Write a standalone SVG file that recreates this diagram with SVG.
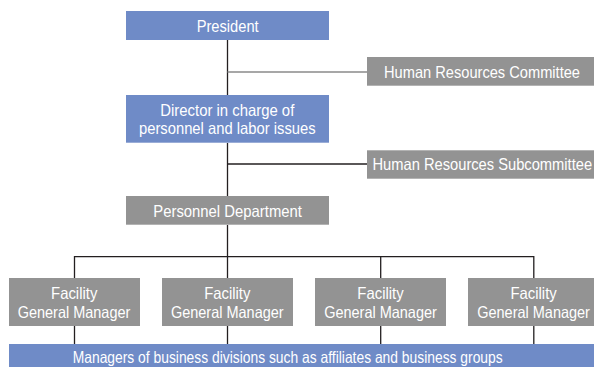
<svg xmlns="http://www.w3.org/2000/svg" width="594" height="367" viewBox="0 0 594 367">
<style>
.blue{fill:#6f8bc7}
.gray{fill:#939393}
.t{font-family:"Liberation Sans",Arial,sans-serif;font-size:16.5px;fill:#ffffff;text-anchor:middle}
.ln{stroke:#231f20;stroke-width:1.3;fill:none}
.lg{stroke:#8a8a8a;stroke-width:1.6;fill:none}
</style>
<rect width="594" height="367" fill="#ffffff"/>
<g id="connectors">
<line class="ln" x1="227.5" y1="40" x2="227.5" y2="95"/>
<line class="lg" x1="227.5" y1="72" x2="367" y2="72"/>
<line class="ln" x1="227.5" y1="143" x2="227.5" y2="196"/>
<line class="ln" x1="227.5" y1="164" x2="367" y2="164"/>
<line class="ln" x1="227.5" y1="225" x2="227.5" y2="278"/>
<polyline class="ln" points="74.5,278 74.5,256.7 533.8,256.7 533.8,278"/>
<line class="ln" x1="380.7" y1="256.7" x2="380.7" y2="278"/>
<line class="ln" x1="74.5" y1="326" x2="74.5" y2="344"/>
<line class="ln" x1="227.5" y1="326" x2="227.5" y2="344"/>
<line class="ln" x1="380.7" y1="326" x2="380.7" y2="344"/>
<line class="ln" x1="533.8" y1="326" x2="533.8" y2="344"/>
</g>
<g id="president">
<rect class="blue" x="126" y="11" width="203" height="29"/>
<text class="t" x="227.7" y="32" textLength="62" lengthAdjust="spacingAndGlyphs">President</text>
</g>
<g id="hr-committee">
<rect class="gray" x="367" y="57" width="227" height="28.7"/>
<text class="t" x="482" y="78.2" textLength="196" lengthAdjust="spacingAndGlyphs">Human Resources Committee</text>
</g>
<g id="director">
<rect class="blue" x="126" y="95" width="203" height="47.7"/>
<text class="t" x="227.3" y="116" textLength="134" lengthAdjust="spacingAndGlyphs">Director in charge of</text>
<text class="t" x="227.3" y="134.3" textLength="176.7" lengthAdjust="spacingAndGlyphs">personnel and labor issues</text>
</g>
<g id="hr-subcommittee">
<rect class="gray" x="367" y="150.3" width="227" height="28.4"/>
<text class="t" x="482.3" y="170.3" textLength="219.6" lengthAdjust="spacingAndGlyphs">Human Resources Subcommittee</text>
</g>
<g id="personnel-dept">
<rect class="gray" x="126" y="196" width="203" height="28.7"/>
<text class="t" x="227.6" y="217.3" textLength="148.7" lengthAdjust="spacingAndGlyphs">Personnel Department</text>
</g>
<g id="fgm1">
<rect class="gray" x="9" y="278" width="131" height="48"/>
<text class="t" x="74.2" y="299.3" textLength="46.3" lengthAdjust="spacingAndGlyphs">Facility</text>
<text class="t" x="74" y="317.7" textLength="112.7" lengthAdjust="spacingAndGlyphs">General Manager</text>
</g>
<g id="fgm2">
<rect class="gray" x="162" y="278" width="131" height="48"/>
<text class="t" x="227.3" y="299.3" textLength="46.3" lengthAdjust="spacingAndGlyphs">Facility</text>
<text class="t" x="227.3" y="317.7" textLength="112.7" lengthAdjust="spacingAndGlyphs">General Manager</text>
</g>
<g id="fgm3">
<rect class="gray" x="315" y="278" width="131" height="48"/>
<text class="t" x="380.5" y="299.3" textLength="46.3" lengthAdjust="spacingAndGlyphs">Facility</text>
<text class="t" x="380.5" y="317.7" textLength="112.7" lengthAdjust="spacingAndGlyphs">General Manager</text>
</g>
<g id="fgm4">
<rect class="gray" x="468" y="278" width="126" height="48"/>
<text class="t" x="533.6" y="299.3" textLength="46.3" lengthAdjust="spacingAndGlyphs">Facility</text>
<text class="t" x="533.6" y="317.7" textLength="112.7" lengthAdjust="spacingAndGlyphs">General Manager</text>
</g>
<g id="business-managers">
<rect class="blue" x="9" y="344" width="585" height="23"/>
<text class="t" x="287.7" y="362.5" textLength="430" lengthAdjust="spacingAndGlyphs">Managers of business divisions such as affiliates and business groups</text>
</g>
</svg>
